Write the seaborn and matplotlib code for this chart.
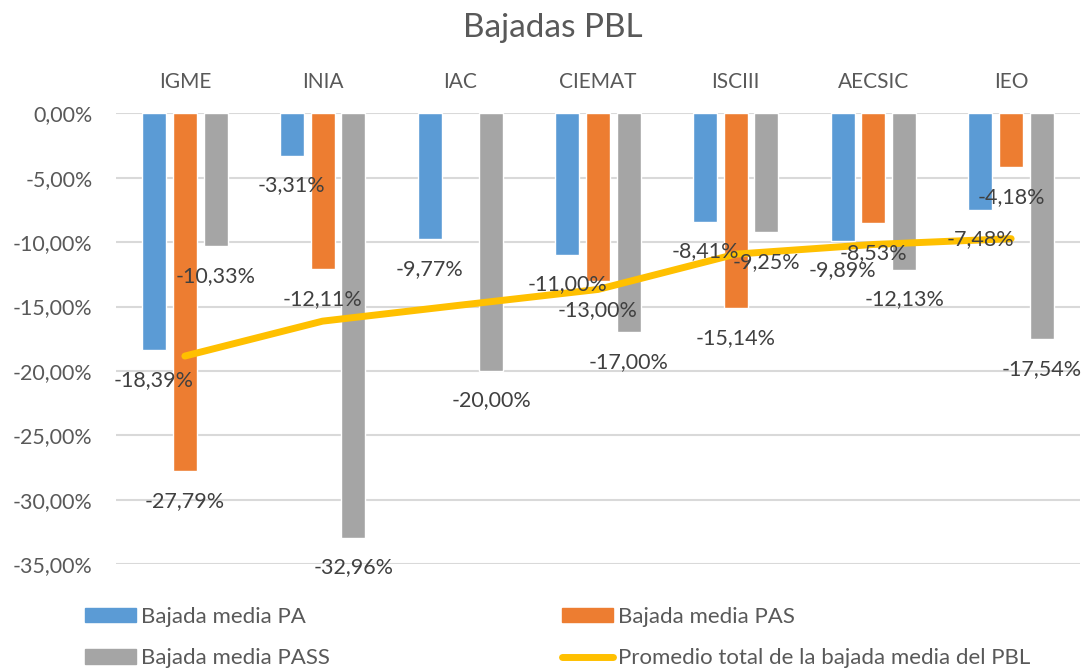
import numpy as np
import pandas as pd
import seaborn as sns
import matplotlib.pyplot as plt
from matplotlib.lines import Line2D
from matplotlib.patches import Patch

# ----------------------------
# Data (%)
# ----------------------------
entidades = ["IGME", "INIA", "IAC", "CIEMAT", "ISCIII", "AECSIC", "IEO"]
bajada_pa = [-18.39, -3.31, -9.77, -11.00, -8.41, -9.89, -7.48]
bajada_pas = [-27.79, -12.11, np.nan, -13.00, -15.14, -8.53, -4.18]  # IAC sin dato
bajada_pass = [-10.33, -32.96, -20.00, -17.00, -9.25, -12.13, -17.54]
promedio = [-18.84, -16.13, -14.89, -13.67, -10.93, -10.18, -9.73]

series = ["Bajada media PA", "Bajada media PAS", "Bajada media PASS"]
linea_label = "Promedio total de la bajada media del PBL"
colores = ["#5B9BD5", "#ED7D31", "#A5A5A5"]
color_linea = "#FFC000"

yticks = [0, -5, -10, -15, -20, -25, -30, -35]

# long table, dropping missing combos so the slot stays empty
long = pd.DataFrame({
    "entidad": entidades * 3,
    "serie": [s for s in series for _ in entidades],
    "valor": bajada_pa + bajada_pas + bajada_pass,
}).dropna(subset=["valor"])


def pct(v):
    return f"{v:.2f}%".replace(".", ",")


sns.set_style("white")
plt.rcParams["font.family"] = ["Lato", "DejaVu Sans"]

W, H = 1084, 672
fig = plt.figure(figsize=(W / 100, H / 100), dpi=100)
top_px, bot_px = 113.3, 564.3
ax = fig.add_axes([116 / W, 1 - bot_px / H, (1080 - 116) / W, (bot_px - top_px) / H])

sns.barplot(
    data=long, x="entidad", y="valor", hue="serie", order=entidades,
    hue_order=series, palette=colores, width=0.67, gap=0.22,
    saturation=1, errorbar=None, ax=ax, legend=False, zorder=2,
)

sns.lineplot(
    x=np.arange(len(entidades)), y=promedio, color=color_linea,
    linewidth=5, ax=ax, zorder=3, solid_capstyle="round",
)

# data labels below every bar
for cont in ax.containers:
    vals = cont.datavalues
    ax.bar_label(cont, labels=[pct(v) for v in vals], padding=14,
                 fontsize=15.5, color="#404040", zorder=4)

ax.set_ylim(-35, 0)
ax.set_xlim(-0.5, len(entidades) - 0.5)
ax.set_yticks(yticks)
ax.set_yticklabels([pct(v) for v in yticks])
ax.yaxis.grid(True, color="#D9D9D9", linewidth=1.5, zorder=0)
ax.set_axisbelow(True)
ax.xaxis.tick_top()
ax.tick_params(axis="x", length=0, pad=15, labelsize=15, labelcolor="#595959")
ax.tick_params(axis="y", length=0, pad=17, labelsize=15.4, labelcolor="#595959")
ax.set_xlabel("")
ax.set_ylabel("")
for s in ax.spines.values():
    s.set_visible(False)

fig.text(553 / W, 1 - 28 / H, "Bajadas PBL", ha="center", va="center",
         fontsize=24, color="#595959")

# legend: two columns at the bottom
h_pa = Patch(color=colores[0])
h_pas = Patch(color=colores[1])
h_pass = Patch(color=colores[2])
h_line = Line2D([], [], color=color_linea, linewidth=5, solid_capstyle="round")
leg_kw = dict(frameon=False, fontsize=16, handlelength=2.3, handleheight=0.63,
              handletextpad=0.22, labelspacing=0.95, borderpad=0, borderaxespad=0,
              loc="upper left", labelcolor="#595959")
fig.legend([h_pa, h_pass], [series[0], series[2]],
           bbox_to_anchor=(85 / W, 1 - 607 / H), **leg_kw)
fig.legend([h_pas, h_line], [series[1], linea_label],
           bbox_to_anchor=(562 / W, 1 - 607 / H), **leg_kw)

fig.savefig("out.png", dpi=100)
